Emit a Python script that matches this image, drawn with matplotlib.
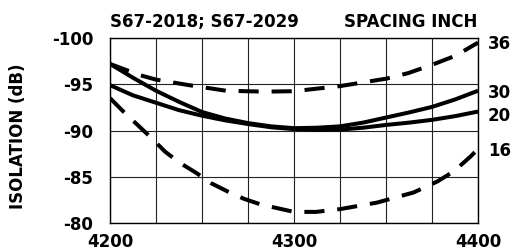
import matplotlib
matplotlib.use('Agg')
import matplotlib.pyplot as plt

# частоты (MHz) и изоляция (dB) для каждого разноса
freq_36 = [4200, 4216, 4225, 4243, 4263, 4284, 4300, 4325, 4350, 4362, 4375, 4388, 4400]
iso_36 = [-97.2, -96.0, -95.5, -94.9, -94.3, -94.2, -94.25, -94.8, -95.6, -96.2, -97.1, -98.1, -99.5]

freq_solid = [4200, 4212.5, 4225, 4237.5, 4250, 4262.5, 4275, 4287.5, 4300,
              4312.5, 4325, 4337.5, 4350, 4362.5, 4375, 4387.5, 4400]
iso_30 = [-97.2, -95.7, -94.3, -93.1, -92.0, -91.3, -90.8, -90.45, -90.25,
          -90.3, -90.45, -90.85, -91.4, -91.95, -92.55, -93.35, -94.3]
iso_20 = [-94.9, -93.8, -93.0, -92.2, -91.6, -91.1, -90.7, -90.35, -90.15,
          -90.05, -90.1, -90.3, -90.6, -90.85, -91.15, -91.55, -92.05]

freq_16 = [4200, 4208, 4215, 4223, 4230, 4238, 4247, 4255, 4264, 4273, 4282,
           4291, 4300, 4312, 4325, 4345, 4365, 4378, 4387, 4396, 4400]
iso_16 = [-93.5, -91.9, -90.6, -89.1, -87.7, -86.5, -85.4, -84.3, -83.4, -82.6, -82.0,
          -81.6, -81.2, -81.2, -81.5, -82.2, -83.3, -84.5, -85.6, -87.2, -88.0]

spacing_labels = ['36', '30', '20', '16']
label_y = [-99.4, -94.1, -91.6, -87.8]

plt.rcParams['font.family'] = ['DejaVu Sans']
plt.rcParams['font.weight'] = 'bold'
plt.rcParams['font.size'] = 12
plt.rcParams['axes.unicode_minus'] = False

fig = plt.figure(figsize=(5.11, 2.52), dpi=100)
ax = fig.add_axes([110 / 511, 29 / 252, 368 / 511, 185 / 252])

lw = 2.9
dash = (5, 3.2)
ax.plot(freq_36, iso_36, color='black', lw=lw, dashes=dash, dash_capstyle='butt')
ax.plot(freq_solid, iso_30, color='black', lw=lw, solid_capstyle='butt')
ax.plot(freq_solid, iso_20, color='black', lw=lw, solid_capstyle='butt')
ax.plot(freq_16, iso_16, color='black', lw=lw, dashes=dash, dash_capstyle='butt')

ax.set_xlim(4200, 4400)
ax.set_ylim(-80, -100)
ax.set_xticks([4200, 4300, 4400])
ax.set_xticks(range(4200, 4401, 25), minor=True)
ax.set_yticks([-100, -95, -90, -85, -80])
ax.grid(True, which='both', color='#222222', lw=0.8)
ax.tick_params(which='both', length=0)
ax.tick_params(axis='y', pad=12)
ax.tick_params(axis='x', pad=7)
for s in ax.spines.values():
    s.set_linewidth(1.0)

for lab, y in zip(spacing_labels, label_y):
    ax.annotate(lab, xy=(4400, y), xytext=(7, 0), textcoords='offset points',
                va='center', ha='left', annotation_clip=False)

fig.text(110 / 511, 1 - 27 / 252, 'S67-2018; S67-2029', ha='left', va='baseline')
fig.text(477 / 511, 1 - 27 / 252, 'SPACING INCH', ha='right', va='baseline')
fig.text(18 / 511, 1 - 136 / 252, 'ISOLATION (dB)', rotation=90, ha='center', va='center')

fig.savefig('out.png', dpi=100)
